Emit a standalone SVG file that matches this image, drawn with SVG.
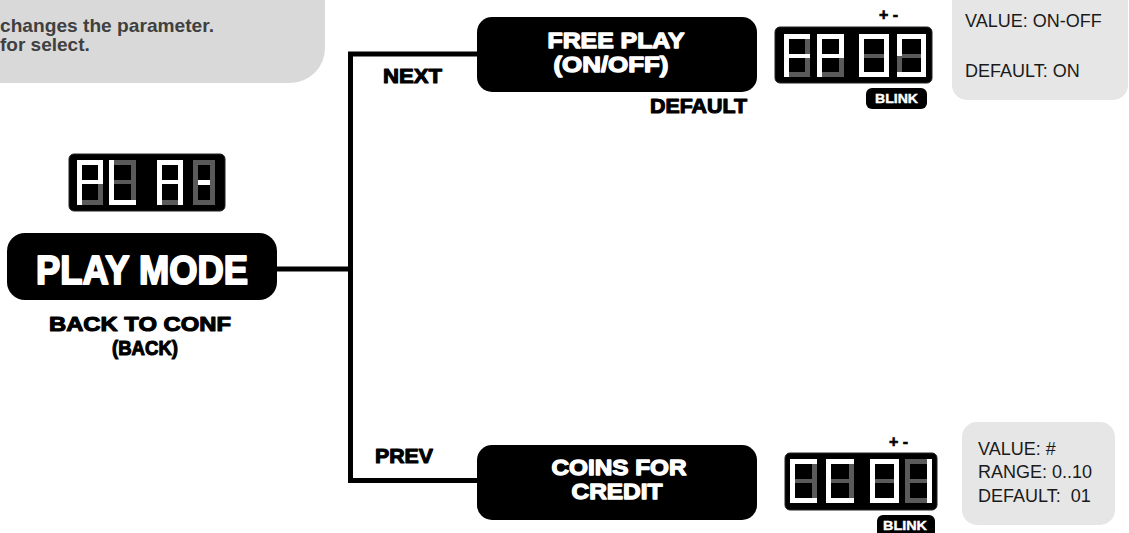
<svg xmlns="http://www.w3.org/2000/svg" width="1129" height="533" viewBox="0 0 1129 533">
<style>
.b{font-family:"Liberation Sans",Arial,sans-serif;font-weight:bold}
.hw{fill:#fff;stroke:#fff;stroke-width:1.3;stroke-linejoin:round}
.hk{fill:#000;stroke:#000;stroke-width:1.1;stroke-linejoin:round}
.box{fill:#000}
.disp{fill:#000;stroke:#222;stroke-width:1}
.on{fill:#fff}
.off{fill:#5a5a5a}
.val{font-family:"Liberation Sans",Arial,sans-serif;font-size:18px;fill:#1a1a1a;white-space:pre}
.tag{fill:#000}
.tagt{fill:#fff;font-size:13px;stroke:#fff;stroke-width:0.4}
.pm{fill:#000;font-size:16px;stroke:#000;stroke-width:0.6}
.conn{fill:none;stroke:#000;stroke-width:5;stroke-linejoin:miter}
</style>
<g id="note">
<path d="M-10,-10 H325 V48 A35,35 0 0 1 290,83 H-10 Z" fill="#d9d9d9"/>
<text class="b" x="0" y="32" font-size="19" fill="#404040" textLength="214" lengthAdjust="spacingAndGlyphs">changes the parameter.</text>
<text class="b" x="0" y="51" font-size="19" fill="#404040">for select.</text>
</g>
<g id="connectors">
<path class="conn" d="M477,54 H350.5 V480.5 H477"/>
<path class="conn" d="M277,269 H350.5"/>
</g>
<g id="disp-pla">
<rect class="disp" x="69" y="154" width="156" height="57" rx="5"/>
<rect class="off" x="98" y="182" width="5" height="23"/><rect class="off" x="77" y="200" width="26" height="5"/>
<rect class="on" x="77" y="160" width="26" height="5"/><rect class="on" x="98" y="160" width="5" height="23"/><rect class="on" x="77" y="160" width="5" height="23"/><rect class="on" x="77" y="182" width="5" height="23"/><rect class="on" x="77" y="180" width="26" height="4"/>
<rect class="off" x="109" y="160" width="27" height="5"/><rect class="off" x="131" y="160" width="5" height="23"/><rect class="off" x="131" y="182" width="5" height="23"/><rect class="off" x="109" y="180" width="27" height="4"/>
<rect class="on" x="109" y="160" width="5" height="23"/><rect class="on" x="109" y="182" width="5" height="23"/><rect class="on" x="109" y="200" width="27" height="5"/>
<rect class="off" x="157" y="200" width="26" height="5"/>
<rect class="on" x="157" y="160" width="26" height="5"/><rect class="on" x="178" y="160" width="5" height="23"/><rect class="on" x="178" y="182" width="5" height="23"/><rect class="on" x="157" y="182" width="5" height="23"/><rect class="on" x="157" y="160" width="5" height="23"/><rect class="on" x="157" y="180" width="26" height="4"/>
<rect class="off" x="193" y="160" width="22" height="5"/><rect class="off" x="210" y="160" width="5" height="23"/><rect class="off" x="210" y="182" width="5" height="23"/><rect class="off" x="193" y="200" width="22" height="5"/><rect class="off" x="193" y="182" width="5" height="23"/><rect class="off" x="193" y="160" width="5" height="23"/>
<rect class="on" x="198" y="180" width="12" height="5"/>
</g>
<g id="play-mode">
<rect class="box" x="7" y="233" width="270" height="67" rx="18"/>
<text class="b hw" x="142" y="284" font-size="41" text-anchor="middle" textLength="212" lengthAdjust="spacingAndGlyphs" style="stroke-width:2">PLAY MODE</text>
<text class="b hk" x="140" y="331" font-size="20.5" text-anchor="middle" textLength="182" lengthAdjust="spacingAndGlyphs">BACK TO CONF</text>
<text class="b hk" x="145" y="355" font-size="20.5" text-anchor="middle" textLength="66" lengthAdjust="spacingAndGlyphs">(BACK)</text>
</g>
<g id="free-play">
<rect class="box" x="477" y="17" width="280" height="75" rx="15"/>
<text class="b hw" x="616" y="48" font-size="22" text-anchor="middle" textLength="137" lengthAdjust="spacingAndGlyphs">FREE PLAY</text>
<text class="b hw" x="611" y="72" font-size="22" text-anchor="middle" textLength="115" lengthAdjust="spacingAndGlyphs">(ON/OFF)</text>
<text class="b hk" x="383" y="83" font-size="21" textLength="59" lengthAdjust="spacingAndGlyphs">NEXT</text>
<text class="b hk" x="650" y="113" font-size="21" textLength="97" lengthAdjust="spacingAndGlyphs">DEFAULT</text>
</g>
<g id="disp-fp00">
<text class="b pm" x="879" y="20">+ -</text>
<rect class="disp" x="775" y="27" width="157" height="56" rx="5"/>
<rect class="off" x="805" y="34" width="5" height="22"/><rect class="off" x="805" y="55" width="5" height="22"/><rect class="off" x="784" y="72" width="26" height="5"/>
<rect class="on" x="784" y="34" width="26" height="5"/><rect class="on" x="784" y="34" width="5" height="22"/><rect class="on" x="784" y="55" width="5" height="22"/><rect class="on" x="784" y="54" width="26" height="4"/>
<rect class="off" x="839" y="55" width="5" height="22"/><rect class="off" x="817" y="72" width="27" height="5"/>
<rect class="on" x="817" y="34" width="27" height="5"/><rect class="on" x="839" y="34" width="5" height="22"/><rect class="on" x="817" y="34" width="5" height="22"/><rect class="on" x="817" y="55" width="5" height="22"/><rect class="on" x="817" y="54" width="27" height="4"/>
<rect class="off" x="859" y="54" width="30" height="4"/>
<rect class="on" x="859" y="34" width="30" height="5"/><rect class="on" x="884" y="34" width="5" height="22"/><rect class="on" x="884" y="55" width="5" height="22"/><rect class="on" x="859" y="72" width="30" height="5"/><rect class="on" x="859" y="55" width="5" height="22"/><rect class="on" x="859" y="34" width="5" height="22"/>
<rect class="off" x="897" y="55" width="5" height="22"/><rect class="off" x="897" y="54" width="29" height="4"/>
<rect class="on" x="897" y="34" width="29" height="5"/><rect class="on" x="921" y="34" width="5" height="22"/><rect class="on" x="921" y="55" width="5" height="22"/><rect class="on" x="897" y="72" width="29" height="5"/><rect class="on" x="897" y="34" width="5" height="22"/>
<rect class="tag" x="866" y="88" width="61" height="21" rx="6"/>
<text class="b tagt" x="896.5" y="103" text-anchor="middle" textLength="43" lengthAdjust="spacingAndGlyphs">BLINK</text>
</g>
<g id="value-free-play">
<rect x="952" y="-15" width="176" height="115" rx="15" fill="#e6e6e6"/>
<text class="val" x="965" y="27">VALUE: ON-OFF</text>
<text class="val" x="965" y="77">DEFAULT: ON</text>
</g>
<g id="coins-for-credit">
<rect class="box" x="477" y="445" width="280" height="75" rx="15"/>
<text class="b hw" x="619" y="475" font-size="22" text-anchor="middle" textLength="135" lengthAdjust="spacingAndGlyphs">COINS FOR</text>
<text class="b hw" x="617" y="499" font-size="22" text-anchor="middle" textLength="91" lengthAdjust="spacingAndGlyphs">CREDIT</text>
<text class="b hk" x="375" y="463" font-size="21" textLength="58" lengthAdjust="spacingAndGlyphs">PREV</text>
</g>
<g id="disp-cc01">
<text class="b pm" x="889" y="447">+ -</text>
<rect class="disp" x="785" y="453" width="152" height="57" rx="5"/>
<rect class="off" x="812" y="459" width="5" height="23"/><rect class="off" x="812" y="481" width="5" height="22"/><rect class="off" x="790" y="479" width="27" height="4"/>
<rect class="on" x="790" y="459" width="27" height="5"/><rect class="on" x="790" y="459" width="5" height="23"/><rect class="on" x="790" y="481" width="5" height="22"/><rect class="on" x="790" y="498" width="27" height="5"/>
<rect class="off" x="849" y="459" width="5" height="23"/><rect class="off" x="849" y="481" width="5" height="22"/><rect class="off" x="826" y="479" width="28" height="4"/>
<rect class="on" x="826" y="459" width="28" height="5"/><rect class="on" x="826" y="459" width="5" height="23"/><rect class="on" x="826" y="481" width="5" height="22"/><rect class="on" x="826" y="498" width="28" height="5"/>
<rect class="off" x="870" y="479" width="29" height="4"/>
<rect class="on" x="870" y="459" width="29" height="5"/><rect class="on" x="894" y="459" width="5" height="23"/><rect class="on" x="894" y="481" width="5" height="22"/><rect class="on" x="870" y="498" width="29" height="5"/><rect class="on" x="870" y="481" width="5" height="22"/><rect class="on" x="870" y="459" width="5" height="23"/>
<rect class="off" x="905" y="459" width="27" height="5"/><rect class="off" x="905" y="498" width="27" height="5"/><rect class="off" x="905" y="481" width="5" height="22"/><rect class="off" x="905" y="459" width="5" height="23"/><rect class="off" x="905" y="479" width="27" height="4"/>
<rect class="on" x="927" y="459" width="5" height="23"/><rect class="on" x="927" y="481" width="5" height="22"/>
<rect class="tag" x="877" y="515" width="58" height="25" rx="6"/>
<text class="b tagt" x="905" y="530" text-anchor="middle" textLength="44" lengthAdjust="spacingAndGlyphs">BLINK</text>
</g>
<g id="value-coins">
<rect x="962" y="422" width="153" height="103" rx="15" fill="#e6e6e6"/>
<text class="val" x="978" y="455">VALUE: #</text>
<text class="val" x="978" y="478">RANGE: 0..10</text>
<text class="val" x="978" y="502">DEFAULT:  01</text>
</g>
</svg>
